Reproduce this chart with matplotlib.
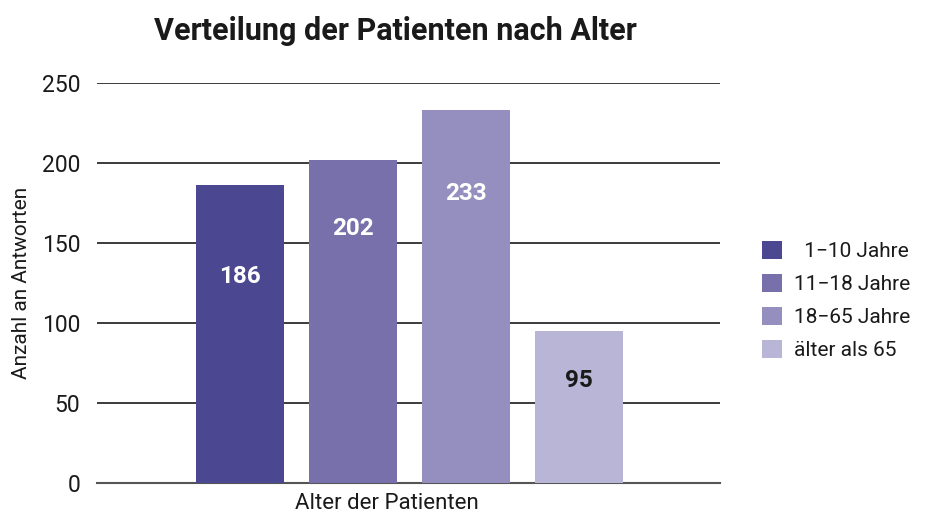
import matplotlib.pyplot as plt
from matplotlib.patches import Patch

# data
categories = ["  1\u221210 Jahre", "11\u221218 Jahre", "18\u221265 Jahre", "älter als 65"]
values = [186, 202, 233, 95]
label_y = [129, 159, 181, 64]   # where the value text sits inside each bar
colors = ["#4b4891", "#7870ab", "#958fbf", "#b8b5d6"]
label_colors = ["white", "white", "white", "#1a1a1a"]
yticks = [0, 50, 100, 150, 200, 250]

plt.rcParams['font.family'] = ['Roboto', 'DejaVu Sans']

fig = plt.figure(figsize=(9.26, 5.18), dpi=100)
ax = fig.add_axes([0.1048, 0.0676, 0.6727, 0.7722])

pos = list(range(len(values)))
ax.bar(pos, values, width=0.78, color=colors, zorder=3)
for p, v, ly, c in zip(pos, values, label_y, label_colors):
    ax.text(p, ly, str(v), ha='center', va='center', color=c,
            fontsize=17.5, fontweight='bold', zorder=4)

ax.set_xlim(-1.265, 4.248)
ax.set_ylim(0, 250)
ax.set_yticks(yticks)
ax.yaxis.grid(True, color='#1a1a1a', linewidth=1.2, zorder=0)
ax.set_xticks([])
for s in ['top', 'right', 'left']:
    ax.spines[s].set_visible(False)
ax.spines['bottom'].set_color('#555555')
ax.spines['bottom'].set_linewidth(1.5)
ax.tick_params(axis='y', length=0, labelsize=16.5, pad=12, labelcolor='#1a1a1a')

ax.set_ylabel("Anzahl an Antworten", fontsize=15, color='#1a1a1a', labelpad=8)
ax.set_xlabel("Alter der Patienten", fontsize=16, color='#1a1a1a')
ax.xaxis.set_label_coords(0.465, -0.025)

fig.text(0.427, 0.94, "Verteilung der Patienten nach Alter", ha='center',
         va='center', fontsize=22, fontweight='bold', color='#1a1a1a')

handles = [Patch(facecolor=c, edgecolor='none') for c in colors]
fig.legend(handles, categories, loc='center left', bbox_to_anchor=(0.823, 0.42),
           frameon=False, fontsize=15, handlelength=0.95, handleheight=0.95,
           labelspacing=0.62, handletextpad=0.6, borderpad=0, borderaxespad=0,
           labelcolor='#1a1a1a')

fig.savefig("out.png", dpi=100)
